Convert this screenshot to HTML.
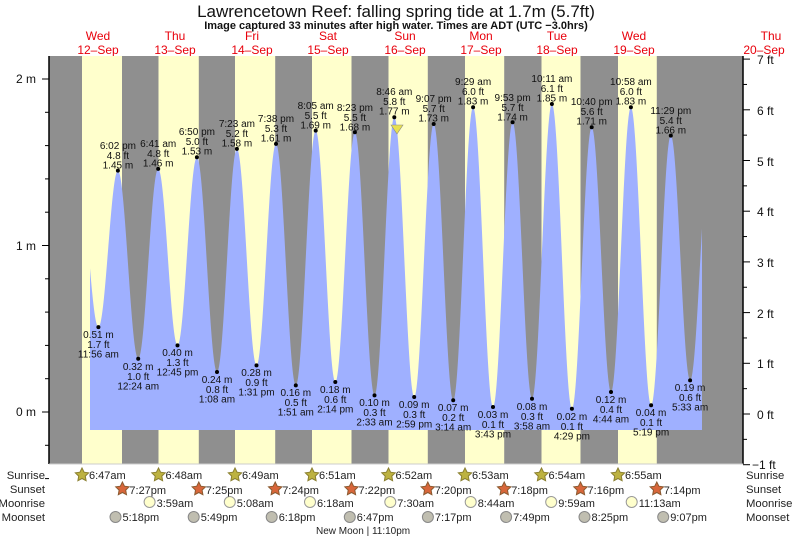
<!DOCTYPE html>
<html><head><meta charset="utf-8"><style>
body{margin:0;background:#fff;}
svg{display:block;font-family:"Liberation Sans",sans-serif;}
.h text,.l text{font-size:10px;fill:#111;text-anchor:middle;}
.ax{font-size:12px;fill:#111;}
.rl{font-size:11.3px;fill:#222;}
.tm{font-size:11px;fill:#222;}
.dl{font-size:12px;fill:#e8000b;text-anchor:middle;}
</style></head><body>
<svg id="s" width="793" height="538" viewBox="0 0 793 538" xmlns="http://www.w3.org/2000/svg">
<text x="396" y="17" font-size="17" text-anchor="middle" fill="#111">Lawrencetown Reef: falling  spring tide at 1.7m (5.7ft)</text>
<text x="396" y="29" font-size="11" font-weight="bold" text-anchor="middle" fill="#111">Image captured 33 minutes after high water. Times are ADT (UTC −3.0hrs)</text>
<g class="dl">
<text x="98" y="40">Wed</text><text x="98" y="54">12–Sep</text>
<text x="175" y="40">Thu</text><text x="175" y="54">13–Sep</text>
<text x="252" y="40">Fri</text><text x="252" y="54">14–Sep</text>
<text x="328" y="40">Sat</text><text x="328" y="54">15–Sep</text>
<text x="405" y="40">Sun</text><text x="405" y="54">16–Sep</text>
<text x="481" y="40">Mon</text><text x="481" y="54">17–Sep</text>
<text x="557" y="40">Tue</text><text x="557" y="54">18–Sep</text>
<text x="634" y="40">Wed</text><text x="634" y="54">19–Sep</text>
<text x="771" y="40">Thu</text><text x="764" y="54">20–Sep</text>
</g>
<rect x="49" y="56" width="694" height="408" fill="#8f8f8f"/>
<g fill="#ffffcc">
<rect x="82" y="56" width="40" height="408"/>
<rect x="158.5" y="56" width="40.3" height="408"/>
<rect x="235" y="56" width="40.2" height="408"/>
<rect x="312" y="56" width="39.5" height="408"/>
<rect x="388.5" y="56" width="39.3" height="408"/>
<rect x="465" y="56" width="39.2" height="408"/>
<rect x="541.5" y="56" width="39" height="408"/>
<rect x="618" y="56" width="38.8" height="408"/>
</g>
<path id="tide" fill="#9fb0ff" d=""/>
<line x1="49" y1="56" x2="49" y2="464" stroke="#000" stroke-width="1.5"/>
<line x1="743" y1="56" x2="743" y2="464" stroke="#000" stroke-width="1.5"/>
<line x1="49" y1="464" x2="743" y2="464" stroke="#ccc" stroke-width="1"/>
<g id="ticks" stroke="#000" stroke-width="1"></g>
<g class="ax" text-anchor="end">
<text x="36" y="83">2 m</text><text x="36" y="250">1 m</text><text x="36" y="416">0 m</text>
</g>
<g class="ax">
<text x="757" y="64">7 ft</text><text x="757" y="115">6 ft</text><text x="757" y="166">5 ft</text><text x="757" y="216">4 ft</text>
<text x="757" y="267">3 ft</text><text x="757" y="318">2 ft</text><text x="757" y="368">1 ft</text><text x="757" y="419">0 ft</text><text x="752" y="469">−1 ft</text>
</g>
<g id="dots" fill="#000"></g>
<polygon points="391,125 403,125 397,134" fill="#e8e050" stroke="#888" stroke-width="0.6"/>
<g class="h">
<text x="117.9" y="149"><tspan x="117.9">6:02 pm</tspan><tspan x="117.9" dy="10">4.8 ft</tspan><tspan x="117.9" dy="9.5">1.45 m</tspan></text>
<text x="158.2" y="147"><tspan x="158.2">6:41 am</tspan><tspan x="158.2" dy="10">4.8 ft</tspan><tspan x="158.2" dy="9.5">1.46 m</tspan></text>
<text x="196.9" y="135"><tspan x="196.9">6:50 pm</tspan><tspan x="196.9" dy="10">5.0 ft</tspan><tspan x="196.9" dy="9.5">1.53 m</tspan></text>
<text x="236.9" y="127"><tspan x="236.9">7:23 am</tspan><tspan x="236.9" dy="10">5.2 ft</tspan><tspan x="236.9" dy="9.5">1.58 m</tspan></text>
<text x="276" y="122"><tspan x="276">7:38 pm</tspan><tspan x="276" dy="10">5.3 ft</tspan><tspan x="276" dy="9.5">1.61 m</tspan></text>
<text x="315.7" y="109"><tspan x="315.7">8:05 am</tspan><tspan x="315.7" dy="10">5.5 ft</tspan><tspan x="315.7" dy="9.5">1.69 m</tspan></text>
<text x="354.9" y="111"><tspan x="354.9">8:23 pm</tspan><tspan x="354.9" dy="10">5.5 ft</tspan><tspan x="354.9" dy="9.5">1.68 m</tspan></text>
<text x="394.3" y="95"><tspan x="394.3">8:46 am</tspan><tspan x="394.3" dy="10">5.8 ft</tspan><tspan x="394.3" dy="9.5">1.77 m</tspan></text>
<text x="433.7" y="102"><tspan x="433.7">9:07 pm</tspan><tspan x="433.7" dy="10">5.7 ft</tspan><tspan x="433.7" dy="9.5">1.73 m</tspan></text>
<text x="473.1" y="85"><tspan x="473.1">9:29 am</tspan><tspan x="473.1" dy="10">6.0 ft</tspan><tspan x="473.1" dy="9.5">1.83 m</tspan></text>
<text x="512.6" y="101"><tspan x="512.6">9:53 pm</tspan><tspan x="512.6" dy="10">5.7 ft</tspan><tspan x="512.6" dy="9.5">1.74 m</tspan></text>
<text x="551.9" y="82"><tspan x="551.9">10:11 am</tspan><tspan x="551.9" dy="10">6.1 ft</tspan><tspan x="551.9" dy="9.5">1.85 m</tspan></text>
<text x="591.7" y="105"><tspan x="591.7">10:40 pm</tspan><tspan x="591.7" dy="10">5.6 ft</tspan><tspan x="591.7" dy="9.5">1.71 m</tspan></text>
<text x="630.9" y="85"><tspan x="630.9">10:58 am</tspan><tspan x="630.9" dy="10">6.0 ft</tspan><tspan x="630.9" dy="9.5">1.83 m</tspan></text>
<text x="670.8" y="114"><tspan x="670.8">11:29 pm</tspan><tspan x="670.8" dy="10">5.4 ft</tspan><tspan x="670.8" dy="9.5">1.66 m</tspan></text>
</g>
<g class="l">
<text y="338"><tspan x="98.4">0.51 m</tspan><tspan x="98.4" dy="10">1.7 ft</tspan><tspan x="98.4" dy="9.5">11:56 am</tspan></text>
<text y="370"><tspan x="138.2">0.32 m</tspan><tspan x="138.2" dy="10">1.0 ft</tspan><tspan x="138.2" dy="9.5">12:24 am</tspan></text>
<text y="356"><tspan x="177.5">0.40 m</tspan><tspan x="177.5" dy="10">1.3 ft</tspan><tspan x="177.5" dy="9.5">12:45 pm</tspan></text>
<text y="383"><tspan x="217">0.24 m</tspan><tspan x="217" dy="10">0.8 ft</tspan><tspan x="217" dy="9.5">1:08 am</tspan></text>
<text y="376"><tspan x="256.5">0.28 m</tspan><tspan x="256.5" dy="10">0.9 ft</tspan><tspan x="256.5" dy="9.5">1:31 pm</tspan></text>
<text y="396"><tspan x="295.8">0.16 m</tspan><tspan x="295.8" dy="10">0.5 ft</tspan><tspan x="295.8" dy="9.5">1:51 am</tspan></text>
<text y="393"><tspan x="335.3">0.18 m</tspan><tspan x="335.3" dy="10">0.6 ft</tspan><tspan x="335.3" dy="9.5">2:14 pm</tspan></text>
<text y="406"><tspan x="374.5">0.10 m</tspan><tspan x="374.5" dy="10">0.3 ft</tspan><tspan x="374.5" dy="9.5">2:33 am</tspan></text>
<text y="408"><tspan x="414.2">0.09 m</tspan><tspan x="414.2" dy="10">0.3 ft</tspan><tspan x="414.2" dy="9.5">2:59 pm</tspan></text>
<text y="411"><tspan x="453.2">0.07 m</tspan><tspan x="453.2" dy="10">0.2 ft</tspan><tspan x="453.2" dy="9.5">3:14 am</tspan></text>
<text y="418"><tspan x="493">0.03 m</tspan><tspan x="493" dy="10">0.1 ft</tspan><tspan x="493" dy="9.5">3:43 pm</tspan></text>
<text y="410"><tspan x="532">0.08 m</tspan><tspan x="532" dy="10">0.3 ft</tspan><tspan x="532" dy="9.5">3:58 am</tspan></text>
<text y="420"><tspan x="571.9">0.02 m</tspan><tspan x="571.9" dy="10">0.1 ft</tspan><tspan x="571.9" dy="9.5">4:29 pm</tspan></text>
<text y="403"><tspan x="611">0.12 m</tspan><tspan x="611" dy="10">0.4 ft</tspan><tspan x="611" dy="9.5">4:44 am</tspan></text>
<text y="416"><tspan x="651.1">0.04 m</tspan><tspan x="651.1" dy="10">0.1 ft</tspan><tspan x="651.1" dy="9.5">5:19 pm</tspan></text>
<text y="391"><tspan x="690.1">0.19 m</tspan><tspan x="690.1" dy="10">0.6 ft</tspan><tspan x="690.1" dy="9.5">5:33 am</tspan></text>
</g>
<g class="rl" text-anchor="end">
<text x="45" y="479">Sunrise</text><text x="45" y="493">Sunset</text><text x="45" y="507">Moonrise</text><text x="45" y="521">Moonset</text>
</g>
<g class="rl">
<text x="746" y="479">Sunrise</text><text x="746" y="493">Sunset</text><text x="746" y="507">Moonrise</text><text x="746" y="521">Moonset</text>
</g>
<g id="marks"></g>
<g class="tm">
<text x="89" y="479">6:47am</text><text x="165.5" y="479">6:48am</text><text x="242" y="479">6:49am</text><text x="319" y="479">6:51am</text>
<text x="395.5" y="479">6:52am</text><text x="472" y="479">6:53am</text><text x="548.5" y="479">6:54am</text><text x="625" y="479">6:55am</text>
<text x="129.4" y="494">7:27pm</text><text x="205.8" y="494">7:25pm</text><text x="282.2" y="494">7:24pm</text><text x="358.5" y="494">7:22pm</text>
<text x="434.8" y="494">7:20pm</text><text x="511.2" y="494">7:18pm</text><text x="587.5" y="494">7:16pm</text><text x="663.8" y="494">7:14pm</text>
<text x="156.6" y="507">3:59am</text><text x="236.8" y="507">5:08am</text><text x="317" y="507">6:18am</text><text x="397.3" y="507">7:30am</text>
<text x="477.7" y="507">8:44am</text><text x="558.2" y="507">9:59am</text><text x="638.7" y="507">11:13am</text>
<text x="122.5" y="521">5:18pm</text><text x="200.7" y="521">5:49pm</text><text x="278.7" y="521">6:18pm</text><text x="356.8" y="521">6:47pm</text>
<text x="434.9" y="521">7:17pm</text><text x="513.1" y="521">7:49pm</text><text x="591.5" y="521">8:25pm</text><text x="670.2" y="521">9:07pm</text>
<text x="316" y="534" font-size="10">New Moon | 11:10pm</text>
</g>
</svg>
<script>
var P=[[78.5,172],[98.4,327.1],[117.9,170.6],[138.2,358.7],[158.2,168.9],[177.5,345.4],[196.9,157.3],[217,372],[236.9,148.9],[256.5,365.4],[276,143.9],[295.8,385.4],[315.7,130.6],[335.3,382],[354.9,132.3],[374.5,395.4],[394.3,117.3],[414.2,397],[433.7,124],[453.2,400.3],[473.1,107.3],[493,407],[512.6,122.3],[532,398.7],[551.9,104],[571.9,408.7],[591.7,127.3],[611,392],[630.9,107.3],[651.1,405.3],[670.8,135.6],[690.1,380.4],[710.1,145.6]];
function val(x){for(var i=0;i<P.length-1;i++){if(x>=P[i][0]&&x<=P[i+1][0]){var f=(x-P[i][0])/(P[i+1][0]-P[i][0]);var c=0.5-0.5*Math.cos(Math.PI*f);return P[i][1]+(P[i+1][1]-P[i][1])*c;}}return 300;}
var d="M90,430";for(var x=90;x<=702;x+=0.5){d+=" L"+x+","+val(x).toFixed(1);}d+=" L702,430 Z";
document.getElementById("tide").setAttribute("d",d);
var ns="http://www.w3.org/2000/svg";
function el(t,a,p){var e=document.createElementNS(ns,t);for(var k in a)e.setAttribute(k,a[k]);document.getElementById(p).appendChild(e);}
for(var m=-0.4;m<=2.01;m+=0.2){var y=412-m*166.5;var big=Math.abs(m-Math.round(m))<0.01;el("line",{x1:big?42:45,x2:49,y1:y,y2:y},"ticks");}
for(var f=-1;f<=7.01;f+=0.5){var y=414-f*50.7;var big=Math.abs(f-Math.round(f))<0.01;el("line",{x1:743,x2:big?750:747,y1:y,y2:y},"ticks");}
for(var i=1;i<P.length-1;i++){el("circle",{cx:P[i][0],cy:P[i][1],r:2},"dots");}
function star(cx,cy,fill,stroke){var pts=[];for(var k=0;k<10;k++){var r=k%2?3.5:7;var a=-Math.PI/2+k*Math.PI/5;pts.push((cx+r*Math.cos(a)).toFixed(1)+","+(cy+r*Math.sin(a)).toFixed(1));}el("polygon",{points:pts.join(" "),fill:fill,stroke:stroke,"stroke-width":1},"marks");}
[82,158.5,235,312,388.5,465,541.5,618].forEach(function(x){star(x,475,"#bdb240","#8a7f30");});
[122.4,198.8,275.2,351.5,427.8,504.2,580.5,656.8].forEach(function(x){star(x,489,"#d8663a","#8a5a30");});
[149.6,229.8,310,390.3,470.7,551.2,631.7].forEach(function(x){el("circle",{cx:x,cy:502,r:5.5,fill:"#ffffcc",stroke:"#999"},"marks");});
[115.5,193.7,271.7,349.8,427.9,506.1,584.5,663.2].forEach(function(x){el("circle",{cx:x,cy:517,r:5.5,fill:"#c0beb0",stroke:"#888"},"marks");});
</script>
</body></html>
